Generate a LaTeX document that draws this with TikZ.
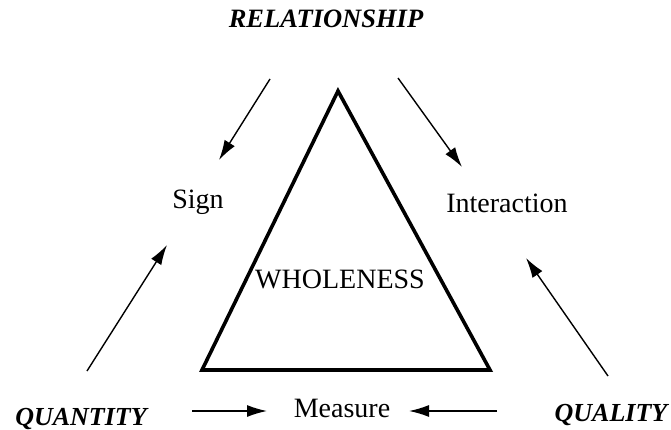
\documentclass[tikz,border=0pt]{standalone}
\usepackage{fontspec}
\setmainfont{Liberation Serif}
\usepackage{tikz}
\usetikzlibrary{arrows.meta}

\begin{document}
\begin{tikzpicture}[x=1pt, y=-1pt]
        \useasboundingbox (0,0) rectangle (671,430);
        \begin{scope}[every node/.style = {inner sep=0pt, anchor=base, font=\fontsize{28}{30}\selectfont}]
            \node (sign) at (198,208) {Sign};
            \node (interaction) at (507,212) {Interaction};
            \node (wholeness) at (340,288) {WHOLENESS};
            \node (measure) at (342,417) {Measure};
        \end{scope}
        \begin{scope}[every node/.style = {inner sep=0pt, anchor=base, font=\fontsize{26}{30}\selectfont\bfseries\itshape}]
            \node[font=\fontsize{26.5}{30}\selectfont\bfseries\itshape] (relationship) at (326,28) {RELATIONSHIP};
            \node (quantity) at (81,425) {QUANTITY};
            \node (quality) at (611,421) {QUALITY};
        \end{scope}
        % triangle
        \coordinate (top) at (338,91);
        \coordinate (left) at (202,370);
        \coordinate (right) at (490,370);
        \draw[line width=3.6pt] (top) -- (left) -- (right) -- cycle;
        % arrow ends
        \coordinate (relL) at (270,79);
        \coordinate (signT) at (219,160);
        \coordinate (relR) at (398,78);
        \coordinate (interT) at (462,167);
        \coordinate (quantT) at (87,371);
        \coordinate (signB) at (167,245);
        \coordinate (qualT) at (608,376);
        \coordinate (interB) at (526,258);
        \coordinate (quantR) at (192,411);
        \coordinate (measL) at (267,411);
        \coordinate (qualL) at (497,411);
        \coordinate (measR) at (409,411);
        \begin{scope}[line width=1.4pt, -{Latex[length=20pt, width=12pt]}]
            \path (relL) edge (signT);
            \path (relR) edge (interT);
            \path (quantT) edge (signB);
            \path (qualT) edge (interB);
            \path (quantR) edge (measL);
            \path (qualL) edge (measR);
        \end{scope}
    \end{tikzpicture}
\end{document}
